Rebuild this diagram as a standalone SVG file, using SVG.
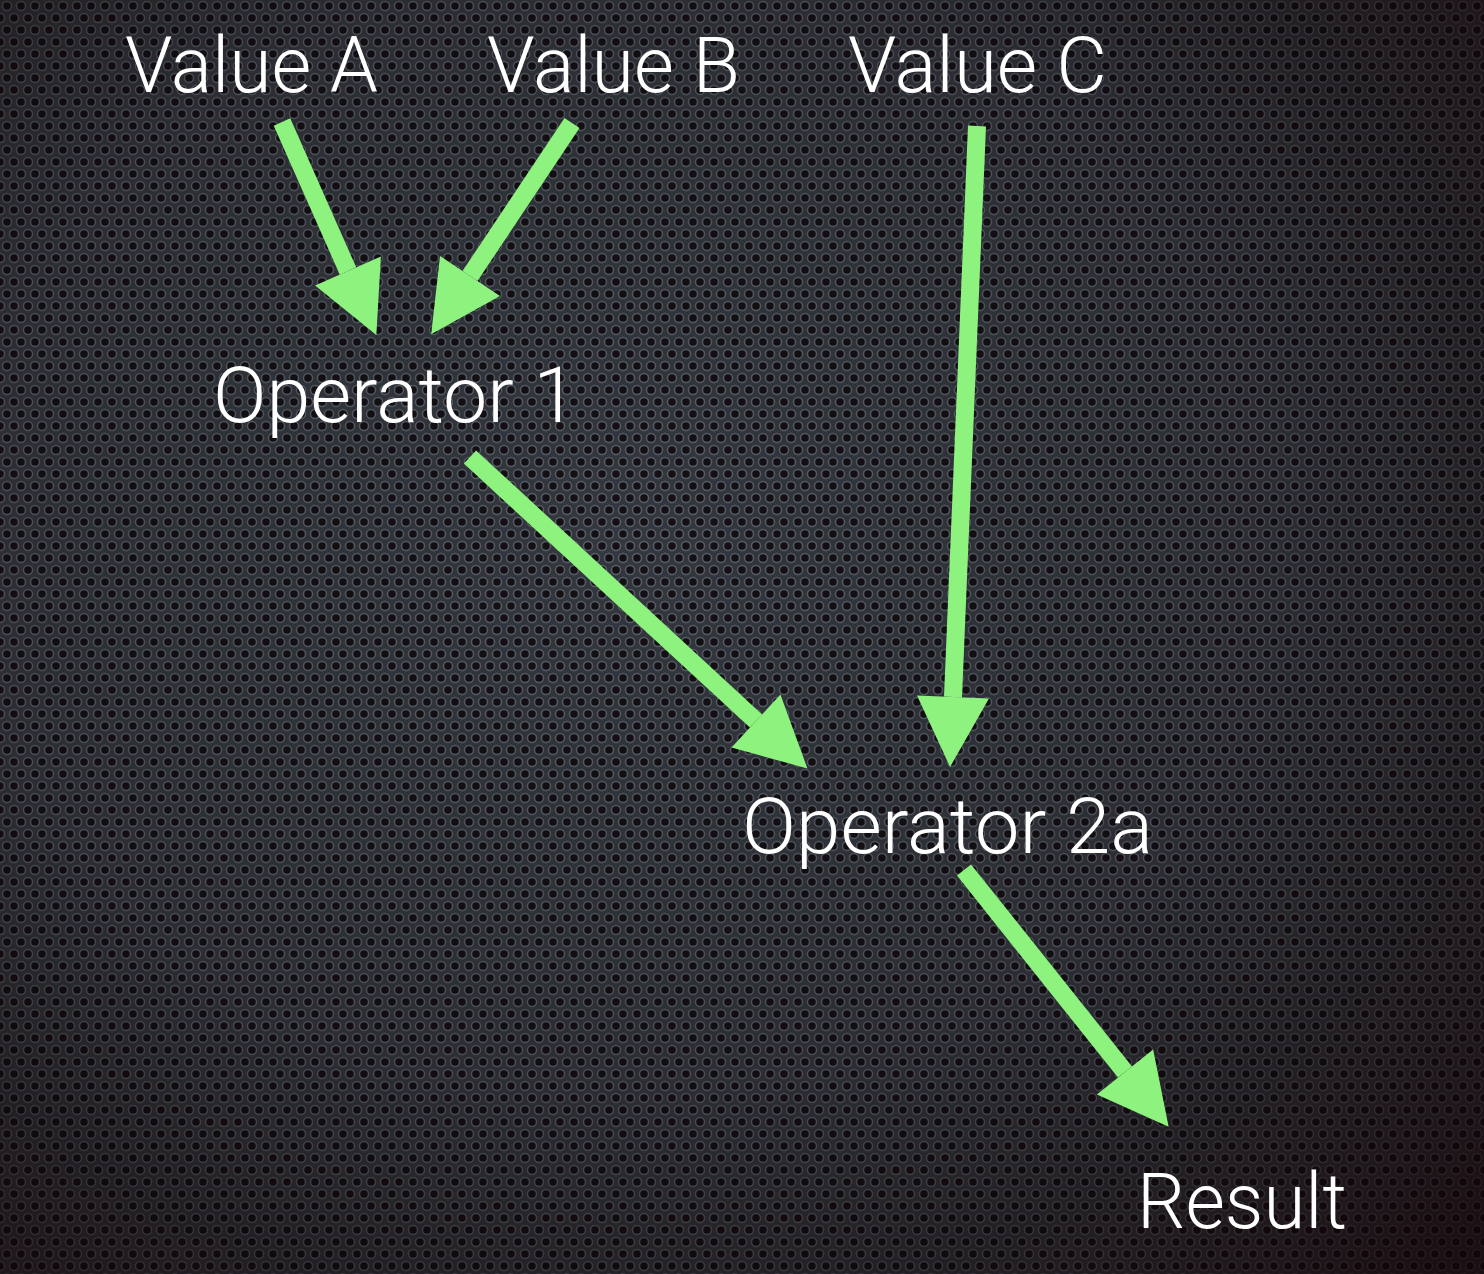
<svg xmlns="http://www.w3.org/2000/svg" width="1484" height="1274" viewBox="0 0 1484 1274">
  <defs>
    <pattern id="mesh" x="0" y="0" width="14" height="24" patternUnits="userSpaceOnUse">
      <rect width="14" height="24" fill="#34383e"/>
      <g fill="#141013" stroke="#58606a" stroke-width="1.5">
        <circle cx="7" cy="6" r="4.5"/>
        <circle cx="0" cy="18" r="4.5"/>
        <circle cx="14" cy="18" r="4.5"/>
      </g>
    </pattern>
    <radialGradient id="shade" cx="0.42" cy="0.42" r="0.8">
      <stop offset="0" stop-color="#000" stop-opacity="0"/>
      <stop offset="0.55" stop-color="#0a0306" stop-opacity="0.2"/>
      <stop offset="1" stop-color="#120205" stop-opacity="0.75"/>
    </radialGradient>
    <marker id="head" viewBox="0 -40 72 80" refX="0" refY="0" markerWidth="72" markerHeight="80" markerUnits="userSpaceOnUse" orient="auto" overflow="visible">
      <path d="M0,-36 L70,0 L0,36 Z" fill="#8ef27e"/>
    </marker>
    <style>
      .lbl { font-family: "Roboto", "Helvetica Neue", "Liberation Sans", sans-serif; font-weight: 300; font-size: 78px; fill: #ffffff; }
      .arrow { fill: none; stroke: #8ef27e; stroke-width: 18; stroke-linecap: butt; marker-end: url(#head); }
    </style>
  </defs>
  <rect width="1484" height="1274" fill="url(#mesh)"/>
  <rect width="1484" height="1274" fill="url(#shade)"/>

  <g id="connectors">
    <path class="arrow" d="M282,122 L348,271"/>
    <path class="arrow" d="M572,123 L470,276"/>
    <path class="arrow" d="M470,457 L756,721"/>
    <path class="arrow" d="M977,126 L953,697"/>
    <path class="arrow" d="M964,870 L1125,1072"/>
  </g>

  <g id="valueA"><text class="lbl" x="125" y="92" textLength="253" lengthAdjust="spacingAndGlyphs">Value A</text></g>
  <g id="valueB"><text class="lbl" x="487" y="92" textLength="253" lengthAdjust="spacingAndGlyphs">Value B</text></g>
  <g id="valueC"><text class="lbl" x="848" y="92" textLength="259" lengthAdjust="spacingAndGlyphs">Value C</text></g>
  <g id="operator1"><text class="lbl" x="213" y="422" textLength="364" lengthAdjust="spacingAndGlyphs">Operator 1</text></g>
  <g id="operator2a"><text class="lbl" x="742" y="853" textLength="411" lengthAdjust="spacingAndGlyphs">Operator 2a</text></g>
  <g id="result"><text class="lbl" x="1137" y="1228" textLength="210" lengthAdjust="spacingAndGlyphs">Result</text></g>
</svg>
